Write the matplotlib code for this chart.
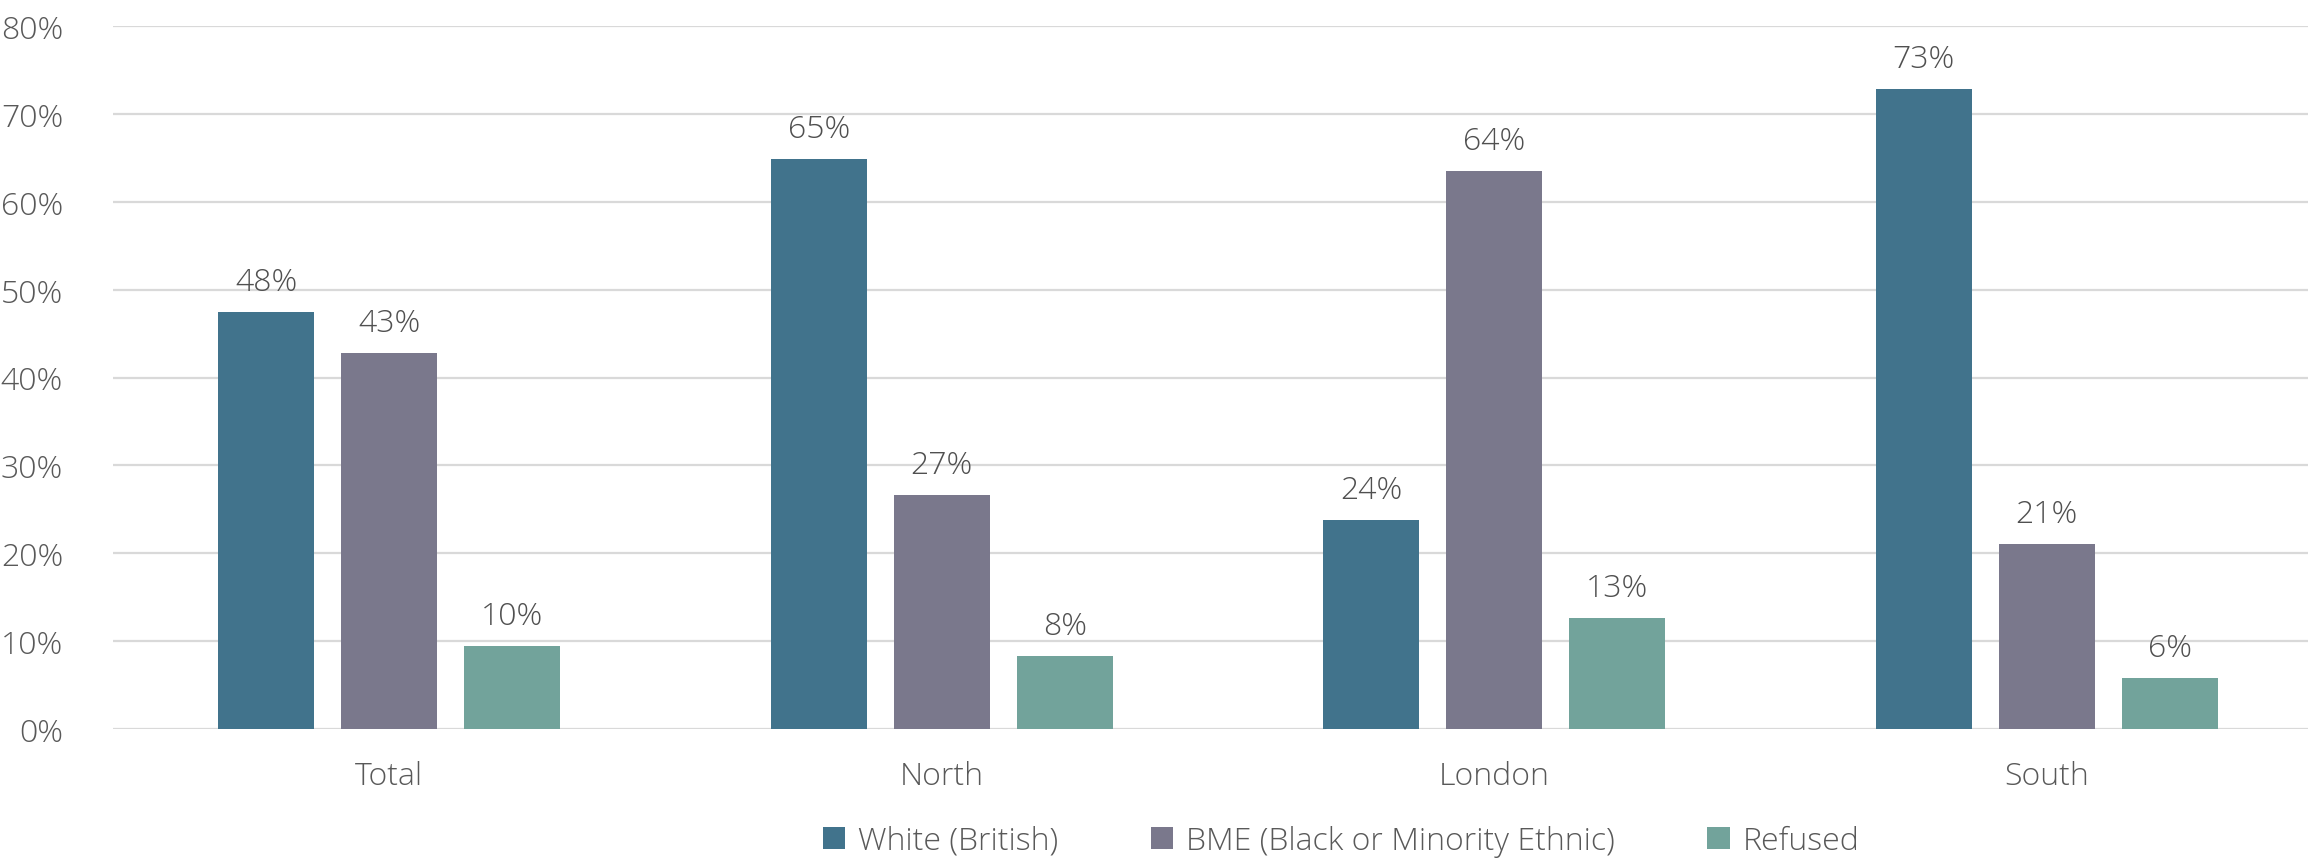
import numpy as np
import matplotlib
matplotlib.use("Agg")
import matplotlib.pyplot as plt

categories = ["Total", "North", "London", "South"]
series = ["White (British)", "BME (Black or Minority Ethnic)", "Refused"]
white = [47.5, 64.9, 23.8, 72.8]
bme = [42.8, 26.6, 63.5, 21.1]
refused = [9.5, 8.3, 12.6, 5.8]
colors = ["#41738C", "#7A788C", "#72A39B"]

plt.rcParams["font.family"] = ["Open Sans", "DejaVu Sans"]
text_col = "#595959"

fig = plt.figure(figsize=(23.08, 8.62), dpi=100)
ax = fig.add_axes([113 / 2308, 132 / 862, 2210 / 2308, 703 / 862])

x = np.arange(len(categories))
width = 0.174
step = 0.2226
for i, (vals, name) in enumerate(zip([white, bme, refused], series)):
    pos = x + (i - 1) * step
    ax.bar(pos, np.array(vals) / 100, width, color=colors[i], label=name, zorder=3)
    for px, v in zip(pos, vals):
        ax.annotate(f"{round(v)}%", (px, v / 100), xytext=(0, 10), textcoords="offset points",
                    ha="center", va="bottom", fontsize=23, color="#505050", fontweight="light")

ax.set_xlim(-0.5, 3.5)
ax.set_ylim(0, 0.8)
ax.set_yticks(np.arange(0, 0.81, 0.1))
ax.set_yticklabels([f"{int(round(t * 100))}%" for t in np.arange(0, 0.81, 0.1)])
ax.set_xticks(x)
ax.set_xticklabels(categories)
ax.grid(axis="y", color="#D9D9D9", linewidth=1.6, zorder=0)
ax.tick_params(length=0, labelsize=23, colors=text_col)
ax.tick_params(axis="x", pad=22)
ax.tick_params(axis="y", pad=36)
for lab in ax.get_xticklabels() + ax.get_yticklabels():
    lab.set_fontweight("light")
for s in ax.spines.values():
    s.set_visible(False)

fig.legend(loc="center", bbox_to_anchor=(1341 / 2308, 20 / 862), ncol=3, frameon=False,
           handlelength=0.7, handleheight=0.7, handletextpad=0.4,
           columnspacing=2.9, labelcolor=text_col, prop={"weight": "light", "size": 23})

fig.savefig("out.png", dpi=100)
